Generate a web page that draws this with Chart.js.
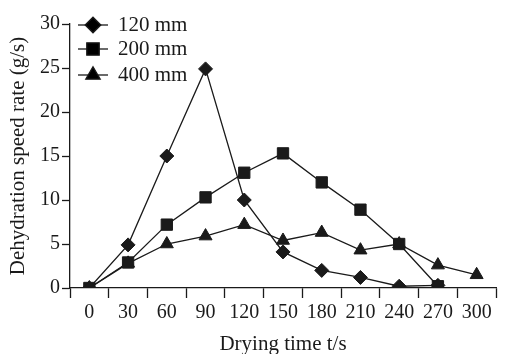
<!DOCTYPE html>
<html>
<head>
<meta charset="utf-8">
<script src="https://cdn.jsdelivr.net/npm/chart.js@4"></script>
<style>
html, body { margin: 0; padding: 0; background: #fff; }
</style>
</head>
<body>
<canvas id="grafik" width="505" height="354"></canvas>
<script>
const waktu = ['0', '30', '60', '90', '120', '150', '180', '210', '240', '270', '300'];
const laju120 = [0, 4.9, 15, 24.9, 10, 4.1, 2.0, 1.2, 0.2, 0.3, null];
const laju200 = [0, 2.9, 7.2, 10.3, 13.1, 15.3, 12.0, 8.9, 5.0, 0.2, null];
const laju400 = [0, 2.8, 5.0, 5.9, 7.2, 5.4, 6.3, 4.3, 5.0, 2.6, 1.5];
const labelSeri = ['120 mm', '200 mm', '400 mm'];

const hitam = '#1a1a1a';
const hurufSerif = 'Liberation Serif';

// legenda: garis pendek + penanda + teks, di pojok kiri atas
const legendaGaris = {
    id: 'legendaGaris',
    afterDraw(chart) {
        const ctx = chart.ctx;
        const x0 = 78, x1 = 108, xt = 118;
        const baris = [25, 49, 75];
        chart.data.datasets.forEach((ds, i) => {
            const y = baris[i];
            ctx.save();
            ctx.strokeStyle = hitam;
            ctx.lineWidth = 1.3;
            ctx.beginPath();
            ctx.moveTo(x0, y);
            ctx.lineTo(x1, y);
            ctx.stroke();
            Chart.helpers.drawPoint(ctx, {
                pointStyle: ds.pointStyle,
                radius: ds.pointRadius + 0.8,
                borderWidth: 1,
                rotation: 0
            }, (x0 + x1) / 2, y);
            ctx.fillStyle = hitam;
            ctx.font = '21px "' + hurufSerif + '"';
            ctx.textBaseline = 'middle';
            ctx.fillText(ds.label, xt, y);
            ctx.restore();
        });
    }
};

function seri(label, data, gaya, r) {
    return {
        label: label,
        data: data,
        borderColor: hitam,
        backgroundColor: hitam,
        borderWidth: 1.3,
        pointStyle: gaya,
        pointRadius: r,
        pointBackgroundColor: hitam,
        pointBorderColor: hitam,
        pointBorderWidth: 1,
        tension: 0,
        spanGaps: false
    };
}

const ctx = document.getElementById('grafik').getContext('2d');
new Chart(ctx, {
    type: 'line',
    data: {
        labels: waktu,
        datasets: [
            seri(labelSeri[0], laju120, 'rectRot', 7),
            seri(labelSeri[1], laju200, 'rect', 8),
            seri(labelSeri[2], laju400, 'triangle', 7.5)
        ]
    },
    options: {
        responsive: false,
        animation: false,
        layout: { padding: { top: 24, right: 1, left: 0, bottom: 0 } },
        plugins: {
            legend: { display: false },
            tooltip: { enabled: false }
        },
        scales: {
            x: {
                type: 'category',
                offset: true,
                grid: {
                    offset: true,
                    drawOnChartArea: false,
                    tickLength: 10,
                    tickColor: hitam,
                    tickWidth: 1.3
                },
                border: { color: hitam, width: 1.3 },
                ticks: {
                    color: hitam,
                    font: { family: hurufSerif, size: 20 },
                    padding: 3,
                    maxRotation: 0,
                    autoSkip: false
                },
                title: {
                    display: true,
                    text: 'Drying time t/s',
                    color: hitam,
                    font: { family: hurufSerif, size: 21 },
                    padding: { top: 4, bottom: -3 }
                },
                afterFit(s) { s.height = 66; }
            },
            y: {
                min: 0,
                max: 30,
                grid: {
                    drawOnChartArea: false,
                    tickLength: 8,
                    tickColor: hitam,
                    tickWidth: 1.3
                },
                border: { color: hitam, width: 1.3 },
                ticks: {
                    stepSize: 5,
                    color: hitam,
                    font: { family: hurufSerif, size: 20 },
                    padding: 2
                },
                title: {
                    display: true,
                    text: 'Dehydration speed rate (g/s)',
                    color: hitam,
                    font: { family: hurufSerif, size: 21 },
                    padding: { top: 6, bottom: 4 }
                },
                afterFit(s) { s.width = 70; }
            }
        }
    },
    plugins: [legendaGaris]
});
</script>
</body>
</html>
